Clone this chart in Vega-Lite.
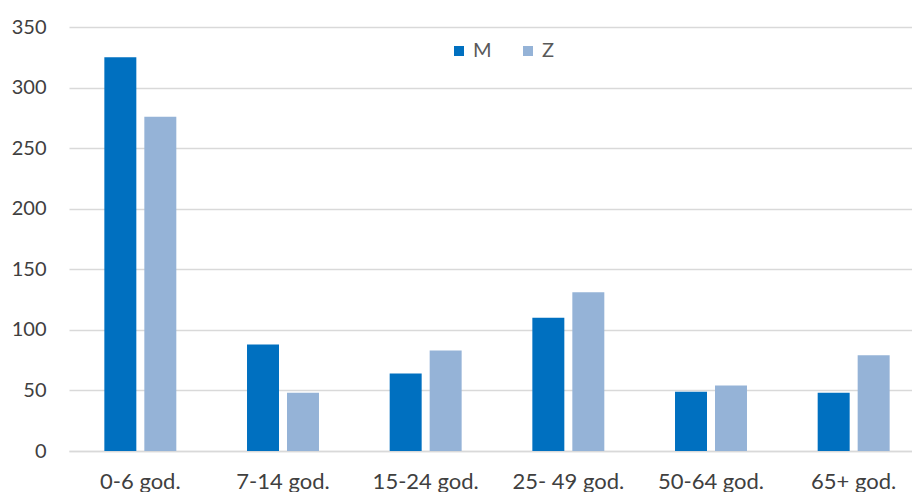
{
  "$schema": "https://vega.github.io/schema/vega-lite/v6.json",
  "autosize": "none",
  "padding": {"left": 69, "top": 27, "right": 0, "bottom": 41},
  "width": 856,
  "height": 424,
  "background": "white",
  "data": {
    "values": [
      {"age": "0-6 god.", "sex": "M", "value": 325},
      {"age": "0-6 god.", "sex": "Z", "value": 276},
      {"age": "7-14 god.", "sex": "M", "value": 88},
      {"age": "7-14 god.", "sex": "Z", "value": 48},
      {"age": "15-24 god.", "sex": "M", "value": 64},
      {"age": "15-24 god.", "sex": "Z", "value": 83},
      {"age": "25- 49 god.", "sex": "M", "value": 110},
      {"age": "25- 49 god.", "sex": "Z", "value": 131},
      {"age": "50-64 god.", "sex": "M", "value": 49},
      {"age": "50-64 god.", "sex": "Z", "value": 54},
      {"age": "65+ god.", "sex": "M", "value": 48},
      {"age": "65+ god.", "sex": "Z", "value": 79}
    ]
  },
  "mark": {"type": "bar"},
  "encoding": {
    "x": {
      "field": "age", "type": "nominal", "sort": null,
      "scale": {"paddingInner": 0.4955, "paddingOuter": 0.24775},
      "axis": {"title": null, "labelAngle": 0, "ticks": false, "domainColor": "#d9d9d9", "domainWidth": 1.5,
               "labelFont": "Lato", "labelFontSize": 22, "labelColor": "#404040", "labelPadding": 20}
    },
    "xOffset": {"field": "sex", "type": "nominal", "scale": {"paddingInner": 0.2, "paddingOuter": 0}},
    "y": {
      "field": "value", "type": "quantitative",
      "scale": {"domain": [0, 350], "nice": false},
      "axis": {"title": null, "values": [0, 50, 100, 150, 200, 250, 300, 350], "domain": false, "ticks": false,
               "gridColor": "#d9d9d9", "gridWidth": 1.5, "labelFont": "Lato", "labelFontSize": 20,
               "labelColor": "#404040", "labelPadding": 23}
    },
    "color": {
      "field": "sex", "type": "nominal",
      "scale": {"domain": ["M", "Z"], "range": ["#0070C0", "#95B3D7"]},
      "legend": {"title": null, "orient": "none", "legendX": 380, "legendY": 14, "direction": "horizontal",
                 "symbolType": "square", "symbolSize": 100, "labelFont": "Lato", "labelFontSize": 20,
                 "labelColor": "#595959", "columnPadding": 26, "symbolStrokeWidth": 0}
    }
  },
  "config": {"view": {"stroke": null}}
}
